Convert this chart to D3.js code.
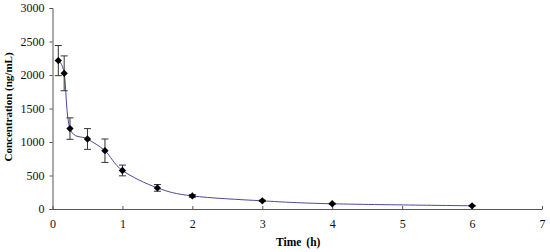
<!DOCTYPE html>
<html>
<head>
<meta charset="utf-8">
<script src="https://cdn.jsdelivr.net/npm/d3@7"></script>
<style>
  body { margin: 0; background: #fff; }
  svg { display: block; font-family: "Liberation Serif", "Times New Roman", serif; }
</style>
</head>
<body>
<div id="chart"></div>
<script>
"use strict";
const margin = {top: 8, right: 8, bottom: 43, left: 52.5}; // px
const width = 550, height = 252;
const serif = "'Liberation Serif', 'Times New Roman', serif";

// time (h), mean concentration (ng/mL), SD
const times = [0.083, 0.167, 0.25, 0.5, 0.75, 1, 1.5, 2, 3, 4, 6];
const conc = [2215, 2025, 1200, 1045, 870, 575, 315, 195, 122, 78, 48];
const sd = [225, 260, 160, 155, 175, 80, 50, 20, 10, 8, 6];

const xTicks = [0, 1, 2, 3, 4, 5, 6, 7];
const yTicks = [0, 500, 1000, 1500, 2000, 2500, 3000];

const x = d3.scaleLinear().domain([0, 7]).range([margin.left, width - margin.right]);
const y = d3.scaleLinear().domain([0, 3000]).range([height - margin.bottom, margin.top]);

const svg = d3.select("#chart")
    .append("svg")
    .attr("width", width)
    .attr("height", height);

// y axis, ticks pointing out
svg.append("g")
    .attr("transform", `translate(${margin.left},0)`)
    .call(d3.axisLeft(y).tickValues(yTicks).tickSize(3).tickPadding(5).tickFormat(d3.format("d")))
    .attr("font-family", serif)
    .call((g) => g.selectAll("path, line").attr("stroke", "#555"))
    .call((g) => g.selectAll("text").attr("font-size", 12).attr("fill", "#111").style("font-family", serif));

// x axis, ticks pointing up
svg.append("g")
    .attr("transform", `translate(0,${height - margin.bottom})`)
    .call(d3.axisBottom(x).tickValues(xTicks).tickSizeInner(-3).tickSizeOuter(0).tickPadding(10).tickFormat(d3.format("d")))
    .attr("font-family", serif)
    .call((g) => g.selectAll("path, line").attr("stroke", "#555"))
    .call((g) => g.selectAll("text").attr("font-size", 12).attr("fill", "#111").style("font-family", serif));

// axis titles
svg.append("text")
    .attr("x", (margin.left + width - margin.right) / 2 + 1)
    .attr("y", height - 6)
    .attr("text-anchor", "middle")
    .attr("font-size", 11.5)
    .attr("font-weight", "bold")
    .attr("word-spacing", 2)
    .text("Time (h)");

svg.append("text")
    .attr("transform", `translate(12,107) rotate(-90)`)
    .attr("text-anchor", "middle")
    .attr("font-size", 11)
    .attr("font-weight", "bold")
    .text("Concentration (ng/mL)");

const pts = times.map((t, i) => ({t, c: conc[i], s: sd[i]}));

// smoothed line (Excel-style)
const line = d3.line()
    .x((d) => x(d.t))
    .y((d) => y(d.c))
    .curve(d3.curveCardinal.tension(0));

svg.append("path")
    .datum(pts)
    .attr("fill", "none")
    .attr("stroke", "#4a4a9a")
    .attr("stroke-width", 1)
    .attr("d", line);

// error bars
const eb = svg.append("g").attr("stroke", "#333").attr("stroke-width", 1);
pts.forEach((d) => {
    const cx = x(d.t);
    eb.append("line").attr("x1", cx).attr("x2", cx).attr("y1", y(d.c + d.s)).attr("y2", y(d.c - d.s));
    eb.append("line").attr("x1", cx - 3.5).attr("x2", cx + 3.5).attr("y1", y(d.c + d.s)).attr("y2", y(d.c + d.s));
    eb.append("line").attr("x1", cx - 3.5).attr("x2", cx + 3.5).attr("y1", y(d.c - d.s)).attr("y2", y(d.c - d.s));
});

// diamond markers
svg.append("g")
    .selectAll("path")
    .data(pts)
    .join("path")
    .attr("transform", (d) => `translate(${x(d.t)},${y(d.c)})`)
    .attr("d", d3.symbol(d3.symbolDiamond2, 34))
    .attr("fill", "#000");
</script>
</body>
</html>
